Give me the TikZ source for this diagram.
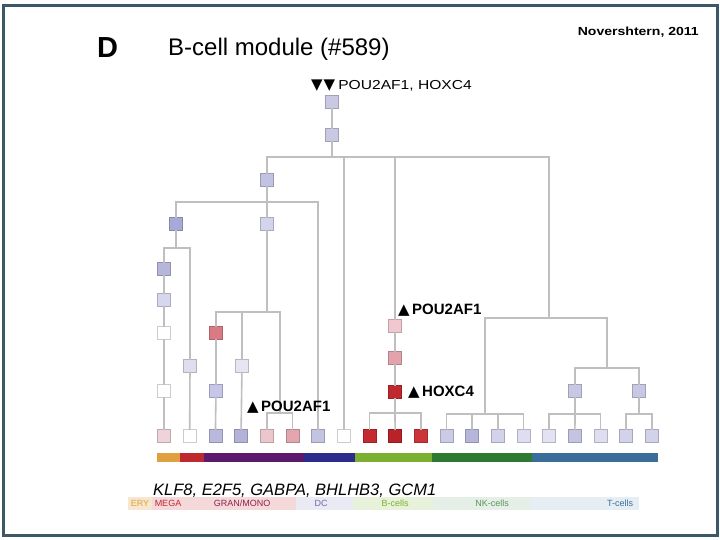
\documentclass[tikz,border=0pt]{standalone}
\usepackage{fontspec}
\setmainfont{Liberation Sans}
\newfontfamily\symf{DejaVu Sans}
\newfontfamily\widef[FakeStretch=1.2]{Liberation Sans}

\definecolor{framec}{HTML}{3B5868}
\definecolor{ery}{HTML}{E0A040}
\definecolor{mega}{HTML}{C02830}
\definecolor{gran}{HTML}{5C1A6C}
\definecolor{dcc}{HTML}{2C2C8C}
\definecolor{bcl}{HTML}{7CB030}
\definecolor{nkc}{HTML}{2E7A32}
\definecolor{tcl}{HTML}{3A6E98}

\definecolor{cA}{HTML}{C9C9E3}
\definecolor{cB}{HTML}{C2C2E2}
\definecolor{cC}{HTML}{A9A9D6}
\definecolor{cD}{HTML}{D3D3EC}
\definecolor{cE}{HTML}{B6B6DA}
\definecolor{cF}{HTML}{D6D6EE}
\definecolor{cG}{HTML}{DEDEEE}
\definecolor{cH}{HTML}{D97A84}
\definecolor{cI}{HTML}{C6C6E8}
\definecolor{cJ}{HTML}{E6E6F2}
\definecolor{pkA}{HTML}{F2C8D0}
\definecolor{pkB}{HTML}{E3A3AC}
\definecolor{rdA}{HTML}{C0282E}
\definecolor{cQ}{HTML}{C8C8E4}
\definecolor{lfA}{HTML}{EFD3DB}
\definecolor{lfC}{HTML}{B9B9DE}
\definecolor{lfD}{HTML}{B3B3DA}
\definecolor{lfE}{HTML}{EBC6CD}
\definecolor{lfF}{HTML}{E3A6AE}
\definecolor{lfG}{HTML}{C3C3E2}
\definecolor{lfI}{HTML}{C42A30}
\definecolor{lfJ}{HTML}{B82228}
\definecolor{lfK}{HTML}{CC343A}
\definecolor{lfL}{HTML}{CBCBE6}
\definecolor{lfM}{HTML}{B6B6DD}
\definecolor{lfN}{HTML}{D2D2EA}
\definecolor{lfO}{HTML}{DEDEF0}
\definecolor{lfP}{HTML}{E2E2F2}
\definecolor{lfQ}{HTML}{C4C4E2}

\begin{document}
\begin{tikzpicture}[x=1pt,y=-1pt,
    cell/.style={draw=#1!80!black,fill=#1,line width=.5pt,minimum size=13pt,inner sep=0pt},
    link/.style={draw=gray!50,line width=1.6pt,line cap=rect},
    lab/.style={font=\bfseries\fontsize{15}{17}\selectfont,anchor=west,inner sep=0pt},
    keylab/.style={font=\fontsize{9}{10}\selectfont,inner sep=0pt}]
    \fill[white] (0,0) rectangle (720,540);
    \useasboundingbox (0,0) rectangle (720,540);
    \draw[framec,line width=3pt] (3,6) rectangle (717,535);

    % titles
    \node[anchor=base west,inner sep=0,font=\bfseries\fontsize{29}{30}\selectfont] (panel) at (97,58) {D};
    \node[anchor=base west,inner sep=0,font=\fontsize{24}{26}\selectfont] (title) at (168,56) {B-cell module (\#589)};
    \node[anchor=base east,inner sep=0,font=\widef\bfseries\fontsize{11.7}{13}\selectfont] (cite) at (699,36) {Novershtern, 2011};

    % tree cells
    \node[cell=cA] (r1) at (332,102) {};
    \node[cell=cA] (r2) at (332,135) {};
    \node[cell=cB] (a) at (267,180) {};
    \node[cell=cC] (b) at (176,224) {};
    \node[cell=cD] (c) at (267,224) {};
    \node[cell=cE] (d1) at (164,269) {};
    \node[cell=cF] (d2) at (164,300) {};
    \node[cell=white] (d3) at (164,333) {};
    \node[cell=white] (d4) at (164,391) {};
    \node[cell=cG] (e) at (190,366) {};
    \node[cell=cH] (f1) at (216,333) {};
    \node[cell=cI] (f2) at (216,391) {};
    \node[cell=cJ] (g) at (242,366) {};
    \node[cell=pkA] (p1) at (395,326) {};
    \node[cell=pkB] (p2) at (395,358) {};
    \node[cell=rdA] (p3) at (395,392) {};
    \node[cell=cQ] (q1) at (575,391) {};
    \node[cell=cQ] (q2) at (639,391) {};
    \foreach \c [count=\i] in {lfA,white,lfC,lfD,lfE,lfF,lfG,white,lfI,lfJ,
                               lfK,lfL,lfM,lfN,lfO,lfP,lfQ,lfO,lfN,lfN}
        \node[cell=\c] (l\i) at ({164+25.68*(\i-1)},436) {};

    % split points
    \coordinate (s0) at (332,157);
    \coordinate (sa) at (267,202);
    \coordinate (sb) at (176,248);
    \coordinate (sc) at (267,312);
    \coordinate (j1) at (280,413);
    \coordinate (sp) at (395,413);
    \coordinate (j2) at (549,318);
    \coordinate (j3) at (485,414);
    \coordinate (j4) at (607,368);
    \coordinate (sq1) at (575,414);
    \coordinate (sq2) at (639,414);

    % links
    \draw[link] (r1) -- (r2);
    \draw[link] (r2) -- (s0) -| (a);
    \draw[link] (s0) -| (l8);
    \draw[link] (s0) -| (p1);
    \draw[link] (s0) -| (j2);
    \draw[link] (a) -- (sa) -| (b);
    \draw[link] (sa) -| (c);
    \draw[link] (sa) -| (l7);
    \draw[link] (b) -- (sb) -| (d1);
    \draw[link] (sb) -| (e);
    \draw[link] (d1) -- (d2) -- (d3) -- (d4) -- (l1);
    \draw[link] (e) -- (l2);
    \draw[link] (c) -- (sc) -| (f1);
    \draw[link] (sc) -| (g);
    \draw[link] (sc) -| (j1);
    \draw[link] (f1) -- (f2) -- (l3);
    \draw[link] (g) -- (l4);
    \draw[link] (j1) -| (l5);
    \draw[link] (j1) -| (l6);
    \draw[link] (p1) -- (p2) -- (p3) -- (sp) -| (l9);
    \draw[link] (sp) -- (l10);
    \draw[link] (sp) -| (l11);
    \draw[link] (j2) -| (j3);
    \draw[link] (j2) -| (j4);
    \foreach \i in {12,...,15}
        \draw[link] (j3) -| (l\i);
    \draw[link] (j4) -| (q1);
    \draw[link] (j4) -| (q2);
    \draw[link] (q1) -- (sq1) -| (l16);
    \draw[link] (sq1) -- (l17);
    \draw[link] (sq1) -| (l18);
    \draw[link] (q2) -- (sq2) -| (l19);
    \draw[link] (sq2) -| (l20);

    % markers
    \node[anchor=west,inner sep=0,font=\widef\fontsize{13}{15}\selectfont] (mroot) at (311,86)
        {{\symf\fontsize{15}{15}\selectfont ▼\kern1pt▼}\kern3pt POU2AF1, HOXC4};
    \node[lab] (mp1) at (398,310) {{\symf ▲}\,POU2AF1};
    \node[lab] (mp3) at (408,392) {{\symf ▲}\,HOXC4};
    \node[lab] (mj1) at (247,407) {{\symf ▲}\,POU2AF1};

    % lineage bar
    \fill[ery] (157,453) rectangle (180,462);
    \fill[mega] (180,453) rectangle (204,462);
    \fill[gran] (204,453) rectangle (304,462);
    \fill[dcc] (304,453) rectangle (355,462);
    \fill[bcl] (355,453) rectangle (432,462);
    \fill[nkc] (432,453) rectangle (532,462);
    \fill[tcl] (532,453) rectangle (658,462);

    \node[anchor=base west,inner sep=0,font=\itshape\fontsize{16.5}{18}\selectfont] (genes) at (153,495) {KLF8, E2F5, GABPA, BHLHB3, GCM1};

    % legend
    \fill[ery!25] (128,497) rectangle (152,510);
    \fill[mega!18] (152,497) rectangle (296,510);
    \fill[dcc!10] (296,497) rectangle (353,510);
    \fill[bcl!18] (353,497) rectangle (433,510);
    \fill[nkc!12] (433,497) rectangle (531,510);
    \fill[tcl!12] (531,497) rectangle (639,510);
    \node[keylab,text=ery] (kery) at (140,503.5) {ERY};
    \node[keylab,text=mega] (kmega) at (168,503.5) {MEGA};
    \node[keylab,text=gran!50!mega] (kgran) at (242,503.5) {GRAN/MONO};
    \node[keylab,text=dcc!70] (kdc) at (321,503.5) {DC};
    \node[keylab,text=bcl] (kb) at (395,503.5) {B-cells};
    \node[keylab,text=nkc!80] (knk) at (492,503.5) {NK-cells};
    \node[keylab,text=tcl] (kt) at (620,503.5) {T-cells};
\end{tikzpicture}
\end{document}
